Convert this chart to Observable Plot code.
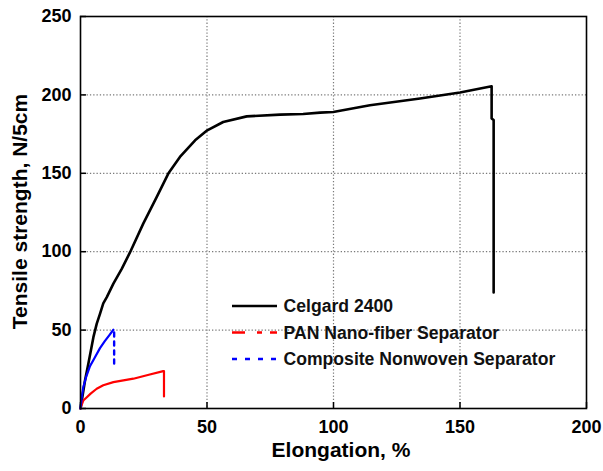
<!DOCTYPE html>
<html>
<head>
<meta charset="utf-8">
<script src="https://cdn.jsdelivr.net/npm/d3@7"></script>
<script src="https://cdn.jsdelivr.net/npm/@observablehq/plot@0.6"></script>
<style>
  html, body { margin: 0; padding: 0; background: #fff; }
  #chart svg { display: block; }
</style>
</head>
<body>
<div id="chart"></div>
<script>
// ---- data ----
const seriesNames = ["Celgard 2400", "PAN Nano-fiber Separator", "Composite Nonwoven Separator"];
const seriesColors = ["#000000", "#ff0000", "#0000ff"];

const celgardX = [0, 0.8, 1.8, 3.1, 5.1, 6.4, 7.7, 9, 10.4, 13, 16.3, 19.6, 24.8, 30.1, 34.7, 39.3, 45.3, 50.1, 56.4, 65.7, 78.9, 88, 94.7, 99.9, 114.4, 134.2, 150, 162.5, 162.5, 163.3, 163.3];
const celgardY = [0, 8, 18, 28.5, 45.5, 54, 60.4, 67, 71, 79.6, 89, 99.7, 117.9, 134.8, 149.8, 160.4, 171, 177.4, 182.7, 186.3, 187.4, 187.8, 188.7, 189.1, 193.4, 197.7, 201.5, 205.5, 185, 184, 74];

const panX = [0, 0.5, 1.1, 2.5, 4, 6.4, 9, 13, 20.9, 27, 32.7, 33, 33];
const panY = [0, 2.5, 5.1, 7.2, 9.5, 12.6, 14.8, 16.8, 19, 21.5, 23.8, 23.8, 7.7];

const compX = [0, 0.4, 1.1, 2.2, 3.75, 5.5, 7.7, 9.6, 11.5, 13];
const compY = [0, 6, 13.6, 20, 27, 32, 38.5, 43, 47, 50.2];
const compDropX = [13.3, 13.3];
const compDropY = [48.5, 26.4];

const xTicks = [0, 50, 100, 150, 200];
const yTicks = [0, 50, 100, 150, 200, 250];
const xGrid = [50, 100, 150];
const yGrid = [50, 100, 150, 200];

const xTitle = "Elongation, %";
const yTitle = "Tensile strength, N/5cm";

// ---- build tables ----
const zip = (xs, ys, s) => xs.map((x, i) => ({x, y: ys[i], s}));
const curves = [
  ...zip(celgardX, celgardY, seriesNames[0]),
  ...zip(panX, panY, seriesNames[1]),
  ...zip(compX, compY, seriesNames[2])
];
const drop = zip(compDropX, compDropY, seriesNames[2]);

const W = 603, H = 471;
const mL = 80, mR = 17, mT = 16, mB = 63;
const innerW = W - mL - mR, innerH = H - mT - mB;
const FONT = "'Liberation Sans', Arial, Helvetica, sans-serif";

const chart = Plot.plot({
  width: W,
  height: H,
  marginLeft: mL,
  marginRight: mR,
  marginTop: mT,
  marginBottom: mB,
  style: {fontFamily: FONT, background: "#fff", color: "#000"},
  x: {domain: [0, 200]},
  y: {domain: [0, 250]},
  color: {domain: seriesNames, range: seriesColors},
  marks: [
    Plot.gridX(xGrid, {stroke: "#7a7a7a", strokeOpacity: 1, strokeWidth: 1.2, strokeDasharray: "1.3,2"}),
    Plot.gridY(yGrid, {stroke: "#7a7a7a", strokeOpacity: 1, strokeWidth: 1.2, strokeDasharray: "1.3,2"}),
    Plot.tickX(xTicks, {x: d => d, stroke: "#000", strokeWidth: 1.5, insetTop: innerH - 6}),
    Plot.tickY(yTicks, {y: d => d, stroke: "#000", strokeWidth: 1.5, insetRight: innerW - 6}),
    Plot.axisX(xTicks, {tickSize: 0, tickPadding: 12, fontSize: 18, fontWeight: "bold", label: null, tickFormat: d => String(d)}),
    Plot.axisY(yTicks, {tickSize: 0, tickPadding: 9, fontSize: 18, fontWeight: "bold", label: null, tickFormat: d => String(d)}),
    Plot.line(curves, {x: "x", y: "y", z: "s", stroke: "s",
      strokeWidth: d => d.s === seriesNames[0] ? 2.6 : 2.2, curve: "linear"}),
    Plot.line(drop, {x: "x", y: "y", stroke: "s", strokeWidth: 2.4, strokeDasharray: "4,5"}),
    Plot.frame({stroke: "#000", strokeWidth: 1.6})
  ]
});

document.getElementById("chart").appendChild(chart);

// ---- titles and legend ----
const svg = d3.select(chart);

svg.append("text")
  .attr("x", 341).attr("y", 457)
  .attr("text-anchor", "middle")
  .attr("font-family", FONT).attr("font-size", 21).attr("font-weight", "bold")
  .attr("fill", "#000")
  .text(xTitle);

svg.append("text")
  .attr("transform", "translate(27,211.5) rotate(-90)")
  .attr("text-anchor", "middle")
  .attr("font-family", FONT).attr("font-size", 21).attr("font-weight", "bold")
  .attr("fill", "#000")
  .text(yTitle);

const legendDash = [null, "13,12,5,8,7", "5,8"];
const legendRows = [306, 332.5, 359];
const lg = svg.append("g").attr("text-anchor", "start");
seriesNames.forEach((name, i) => {
  const yy = legendRows[i];
  lg.append("line")
    .attr("x1", 232).attr("x2", 277).attr("y1", yy).attr("y2", yy)
    .attr("stroke", seriesColors[i]).attr("stroke-width", 2.4)
    .attr("stroke-dasharray", legendDash[i]);
  lg.append("text")
    .attr("x", 283.5).attr("y", yy).attr("dy", "0.36em")
    .attr("text-anchor", "start")
    .attr("font-family", FONT).attr("font-size", 17.6).attr("font-weight", "bold")
    .attr("fill", "#111")
    .text(name);
});
</script>
</body>
</html>
